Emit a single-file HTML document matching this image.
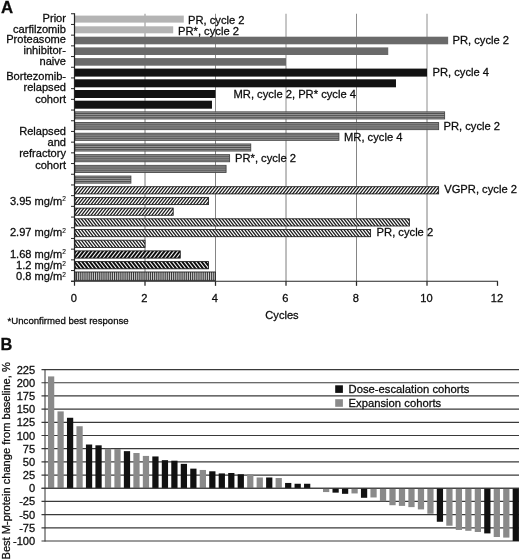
<!DOCTYPE html>
<html><head><meta charset="utf-8"><title>Figure</title>
<style>html,body{margin:0;padding:0;background:#fff;}body{width:520px;height:560px;overflow:hidden;}svg{display:block;will-change:transform;filter:blur(0.35px);}text{font-family:"Liberation Sans",sans-serif;fill:#0c0c0c;stroke:#0c0c0c;stroke-width:0.28px;}</style></head><body>
<svg width="520" height="560" viewBox="0 0 520 560">
<defs>
<pattern id="vs" patternUnits="userSpaceOnUse" width="1.9" height="4"><rect width="1.9" height="4" fill="#d8d8d8"/><rect width="1.0" height="4" fill="#333"/></pattern>
</defs>
<text x="1" y="13.4" font-size="16.8" font-weight="bold" fill="#000">A</text>
<line x1="145.00" y1="13.75" x2="145.00" y2="281.25" stroke="#8e8e8e" stroke-width="1"/>
<line x1="215.50" y1="13.75" x2="215.50" y2="281.25" stroke="#8e8e8e" stroke-width="1"/>
<line x1="286.00" y1="13.75" x2="286.00" y2="281.25" stroke="#8e8e8e" stroke-width="1"/>
<line x1="356.50" y1="13.75" x2="356.50" y2="281.25" stroke="#8e8e8e" stroke-width="1"/>
<line x1="427.00" y1="13.75" x2="427.00" y2="281.25" stroke="#8e8e8e" stroke-width="1"/>
<rect x="75.00" y="15.60" width="108.78" height="7.0" fill="#b4b4b4"/>
<rect x="75.00" y="26.30" width="98.20" height="7.0" fill="#b4b4b4"/>
<rect x="75.00" y="36.70" width="373.15" height="7.6" fill="#6a6a6a"/>
<rect x="75.00" y="47.40" width="313.23" height="7.6" fill="#6a6a6a"/>
<rect x="75.00" y="58.10" width="211.00" height="7.6" fill="#6a6a6a"/>
<rect x="75.00" y="68.60" width="352.00" height="8.0" fill="#121212"/>
<rect x="75.00" y="79.30" width="320.98" height="8.0" fill="#121212"/>
<rect x="75.00" y="90.00" width="140.50" height="8.0" fill="#121212"/>
<rect x="75.00" y="100.70" width="136.97" height="8.0" fill="#121212"/>
<rect x="75.00" y="111.85" width="369.62" height="7.1" fill="#9c9c9c" stroke="#484848" stroke-width="0.9"/>
<path d="M75.00 113.50H444.62M75.00 115.40H444.62M75.00 117.30H444.62" stroke="#484848" stroke-width="0.9" fill="none"/>
<rect x="75.00" y="122.55" width="363.63" height="7.1" fill="#9c9c9c" stroke="#484848" stroke-width="0.9"/>
<path d="M75.00 124.20H438.63M75.00 126.10H438.63M75.00 128.00H438.63" stroke="#484848" stroke-width="0.9" fill="none"/>
<rect x="75.00" y="133.25" width="263.88" height="7.1" fill="#9c9c9c" stroke="#484848" stroke-width="0.9"/>
<path d="M75.00 134.90H338.88M75.00 136.80H338.88M75.00 138.70H338.88" stroke="#484848" stroke-width="0.9" fill="none"/>
<rect x="75.00" y="143.95" width="175.75" height="7.1" fill="#9c9c9c" stroke="#484848" stroke-width="0.9"/>
<path d="M75.00 145.60H250.75M75.00 147.50H250.75M75.00 149.40H250.75" stroke="#484848" stroke-width="0.9" fill="none"/>
<rect x="75.00" y="154.65" width="154.60" height="7.1" fill="#9c9c9c" stroke="#484848" stroke-width="0.9"/>
<path d="M75.00 156.30H229.60M75.00 158.20H229.60M75.00 160.10H229.60" stroke="#484848" stroke-width="0.9" fill="none"/>
<rect x="75.00" y="165.35" width="151.07" height="7.1" fill="#9c9c9c" stroke="#484848" stroke-width="0.9"/>
<path d="M75.00 167.00H226.07M75.00 168.90H226.07M75.00 170.80H226.07" stroke="#484848" stroke-width="0.9" fill="none"/>
<rect x="75.00" y="176.05" width="55.90" height="7.1" fill="#9c9c9c" stroke="#484848" stroke-width="0.9"/>
<path d="M75.00 177.70H130.90M75.00 179.60H130.90M75.00 181.50H130.90" stroke="#484848" stroke-width="0.9" fill="none"/>
<clipPath id="c16"><rect x="75.00" y="186.70" width="363.63" height="7.2"/></clipPath>
<rect x="75.00" y="186.70" width="363.63" height="7.2" fill="#fff"/>
<path clip-path="url(#c16)" d="M64.61 194.90l7.19 -9.20M67.81 194.90l7.19 -9.20M71.01 194.90l7.19 -9.20M74.21 194.90l7.19 -9.20M77.41 194.90l7.19 -9.20M80.61 194.90l7.19 -9.20M83.81 194.90l7.19 -9.20M87.01 194.90l7.19 -9.20M90.21 194.90l7.19 -9.20M93.41 194.90l7.19 -9.20M96.61 194.90l7.19 -9.20M99.81 194.90l7.19 -9.20M103.01 194.90l7.19 -9.20M106.21 194.90l7.19 -9.20M109.41 194.90l7.19 -9.20M112.61 194.90l7.19 -9.20M115.81 194.90l7.19 -9.20M119.01 194.90l7.19 -9.20M122.21 194.90l7.19 -9.20M125.41 194.90l7.19 -9.20M128.61 194.90l7.19 -9.20M131.81 194.90l7.19 -9.20M135.01 194.90l7.19 -9.20M138.21 194.90l7.19 -9.20M141.41 194.90l7.19 -9.20M144.61 194.90l7.19 -9.20M147.81 194.90l7.19 -9.20M151.01 194.90l7.19 -9.20M154.21 194.90l7.19 -9.20M157.41 194.90l7.19 -9.20M160.61 194.90l7.19 -9.20M163.81 194.90l7.19 -9.20M167.01 194.90l7.19 -9.20M170.21 194.90l7.19 -9.20M173.41 194.90l7.19 -9.20M176.61 194.90l7.19 -9.20M179.81 194.90l7.19 -9.20M183.01 194.90l7.19 -9.20M186.21 194.90l7.19 -9.20M189.41 194.90l7.19 -9.20M192.61 194.90l7.19 -9.20M195.81 194.90l7.19 -9.20M199.01 194.90l7.19 -9.20M202.21 194.90l7.19 -9.20M205.41 194.90l7.19 -9.20M208.61 194.90l7.19 -9.20M211.81 194.90l7.19 -9.20M215.01 194.90l7.19 -9.20M218.21 194.90l7.19 -9.20M221.41 194.90l7.19 -9.20M224.61 194.90l7.19 -9.20M227.81 194.90l7.19 -9.20M231.01 194.90l7.19 -9.20M234.21 194.90l7.19 -9.20M237.41 194.90l7.19 -9.20M240.61 194.90l7.19 -9.20M243.81 194.90l7.19 -9.20M247.01 194.90l7.19 -9.20M250.21 194.90l7.19 -9.20M253.41 194.90l7.19 -9.20M256.61 194.90l7.19 -9.20M259.81 194.90l7.19 -9.20M263.01 194.90l7.19 -9.20M266.21 194.90l7.19 -9.20M269.41 194.90l7.19 -9.20M272.61 194.90l7.19 -9.20M275.81 194.90l7.19 -9.20M279.01 194.90l7.19 -9.20M282.21 194.90l7.19 -9.20M285.41 194.90l7.19 -9.20M288.61 194.90l7.19 -9.20M291.81 194.90l7.19 -9.20M295.01 194.90l7.19 -9.20M298.21 194.90l7.19 -9.20M301.41 194.90l7.19 -9.20M304.61 194.90l7.19 -9.20M307.81 194.90l7.19 -9.20M311.01 194.90l7.19 -9.20M314.21 194.90l7.19 -9.20M317.41 194.90l7.19 -9.20M320.61 194.90l7.19 -9.20M323.81 194.90l7.19 -9.20M327.01 194.90l7.19 -9.20M330.21 194.90l7.19 -9.20M333.41 194.90l7.19 -9.20M336.61 194.90l7.19 -9.20M339.81 194.90l7.19 -9.20M343.01 194.90l7.19 -9.20M346.21 194.90l7.19 -9.20M349.41 194.90l7.19 -9.20M352.61 194.90l7.19 -9.20M355.81 194.90l7.19 -9.20M359.01 194.90l7.19 -9.20M362.21 194.90l7.19 -9.20M365.41 194.90l7.19 -9.20M368.61 194.90l7.19 -9.20M371.81 194.90l7.19 -9.20M375.01 194.90l7.19 -9.20M378.21 194.90l7.19 -9.20M381.41 194.90l7.19 -9.20M384.61 194.90l7.19 -9.20M387.81 194.90l7.19 -9.20M391.01 194.90l7.19 -9.20M394.21 194.90l7.19 -9.20M397.41 194.90l7.19 -9.20M400.61 194.90l7.19 -9.20M403.81 194.90l7.19 -9.20M407.01 194.90l7.19 -9.20M410.21 194.90l7.19 -9.20M413.41 194.90l7.19 -9.20M416.61 194.90l7.19 -9.20M419.81 194.90l7.19 -9.20M423.01 194.90l7.19 -9.20M426.21 194.90l7.19 -9.20M429.41 194.90l7.19 -9.20M432.61 194.90l7.19 -9.20M435.81 194.90l7.19 -9.20M439.01 194.90l7.19 -9.20" stroke="#1e1e1e" stroke-width="1.3" fill="none"/>
<rect x="75.00" y="186.70" width="363.63" height="7.2" fill="none" stroke="#1c1c1c" stroke-width="0.85"/>
<clipPath id="c17"><rect x="75.00" y="197.40" width="133.45" height="7.2"/></clipPath>
<rect x="75.00" y="197.40" width="133.45" height="7.2" fill="#fff"/>
<path clip-path="url(#c17)" d="M64.61 205.60l7.19 -9.20M67.81 205.60l7.19 -9.20M71.01 205.60l7.19 -9.20M74.21 205.60l7.19 -9.20M77.41 205.60l7.19 -9.20M80.61 205.60l7.19 -9.20M83.81 205.60l7.19 -9.20M87.01 205.60l7.19 -9.20M90.21 205.60l7.19 -9.20M93.41 205.60l7.19 -9.20M96.61 205.60l7.19 -9.20M99.81 205.60l7.19 -9.20M103.01 205.60l7.19 -9.20M106.21 205.60l7.19 -9.20M109.41 205.60l7.19 -9.20M112.61 205.60l7.19 -9.20M115.81 205.60l7.19 -9.20M119.01 205.60l7.19 -9.20M122.21 205.60l7.19 -9.20M125.41 205.60l7.19 -9.20M128.61 205.60l7.19 -9.20M131.81 205.60l7.19 -9.20M135.01 205.60l7.19 -9.20M138.21 205.60l7.19 -9.20M141.41 205.60l7.19 -9.20M144.61 205.60l7.19 -9.20M147.81 205.60l7.19 -9.20M151.01 205.60l7.19 -9.20M154.21 205.60l7.19 -9.20M157.41 205.60l7.19 -9.20M160.61 205.60l7.19 -9.20M163.81 205.60l7.19 -9.20M167.01 205.60l7.19 -9.20M170.21 205.60l7.19 -9.20M173.41 205.60l7.19 -9.20M176.61 205.60l7.19 -9.20M179.81 205.60l7.19 -9.20M183.01 205.60l7.19 -9.20M186.21 205.60l7.19 -9.20M189.41 205.60l7.19 -9.20M192.61 205.60l7.19 -9.20M195.81 205.60l7.19 -9.20M199.01 205.60l7.19 -9.20M202.21 205.60l7.19 -9.20M205.41 205.60l7.19 -9.20M208.61 205.60l7.19 -9.20" stroke="#1e1e1e" stroke-width="1.3" fill="none"/>
<rect x="75.00" y="197.40" width="133.45" height="7.2" fill="none" stroke="#1c1c1c" stroke-width="0.85"/>
<clipPath id="c18"><rect x="75.00" y="208.10" width="98.20" height="7.2"/></clipPath>
<rect x="75.00" y="208.10" width="98.20" height="7.2" fill="#fff"/>
<path clip-path="url(#c18)" d="M64.61 216.30l7.19 -9.20M67.81 216.30l7.19 -9.20M71.01 216.30l7.19 -9.20M74.21 216.30l7.19 -9.20M77.41 216.30l7.19 -9.20M80.61 216.30l7.19 -9.20M83.81 216.30l7.19 -9.20M87.01 216.30l7.19 -9.20M90.21 216.30l7.19 -9.20M93.41 216.30l7.19 -9.20M96.61 216.30l7.19 -9.20M99.81 216.30l7.19 -9.20M103.01 216.30l7.19 -9.20M106.21 216.30l7.19 -9.20M109.41 216.30l7.19 -9.20M112.61 216.30l7.19 -9.20M115.81 216.30l7.19 -9.20M119.01 216.30l7.19 -9.20M122.21 216.30l7.19 -9.20M125.41 216.30l7.19 -9.20M128.61 216.30l7.19 -9.20M131.81 216.30l7.19 -9.20M135.01 216.30l7.19 -9.20M138.21 216.30l7.19 -9.20M141.41 216.30l7.19 -9.20M144.61 216.30l7.19 -9.20M147.81 216.30l7.19 -9.20M151.01 216.30l7.19 -9.20M154.21 216.30l7.19 -9.20M157.41 216.30l7.19 -9.20M160.61 216.30l7.19 -9.20M163.81 216.30l7.19 -9.20M167.01 216.30l7.19 -9.20M170.21 216.30l7.19 -9.20M173.41 216.30l7.19 -9.20" stroke="#1e1e1e" stroke-width="1.3" fill="none"/>
<rect x="75.00" y="208.10" width="98.20" height="7.2" fill="none" stroke="#1c1c1c" stroke-width="0.85"/>
<clipPath id="c19"><rect x="75.00" y="218.80" width="334.38" height="7.2"/></clipPath>
<rect x="75.00" y="218.80" width="334.38" height="7.2" fill="#fff"/>
<path clip-path="url(#c19)" d="M64.61 217.80l7.19 9.20M67.81 217.80l7.19 9.20M71.01 217.80l7.19 9.20M74.21 217.80l7.19 9.20M77.41 217.80l7.19 9.20M80.61 217.80l7.19 9.20M83.81 217.80l7.19 9.20M87.01 217.80l7.19 9.20M90.21 217.80l7.19 9.20M93.41 217.80l7.19 9.20M96.61 217.80l7.19 9.20M99.81 217.80l7.19 9.20M103.01 217.80l7.19 9.20M106.21 217.80l7.19 9.20M109.41 217.80l7.19 9.20M112.61 217.80l7.19 9.20M115.81 217.80l7.19 9.20M119.01 217.80l7.19 9.20M122.21 217.80l7.19 9.20M125.41 217.80l7.19 9.20M128.61 217.80l7.19 9.20M131.81 217.80l7.19 9.20M135.01 217.80l7.19 9.20M138.21 217.80l7.19 9.20M141.41 217.80l7.19 9.20M144.61 217.80l7.19 9.20M147.81 217.80l7.19 9.20M151.01 217.80l7.19 9.20M154.21 217.80l7.19 9.20M157.41 217.80l7.19 9.20M160.61 217.80l7.19 9.20M163.81 217.80l7.19 9.20M167.01 217.80l7.19 9.20M170.21 217.80l7.19 9.20M173.41 217.80l7.19 9.20M176.61 217.80l7.19 9.20M179.81 217.80l7.19 9.20M183.01 217.80l7.19 9.20M186.21 217.80l7.19 9.20M189.41 217.80l7.19 9.20M192.61 217.80l7.19 9.20M195.81 217.80l7.19 9.20M199.01 217.80l7.19 9.20M202.21 217.80l7.19 9.20M205.41 217.80l7.19 9.20M208.61 217.80l7.19 9.20M211.81 217.80l7.19 9.20M215.01 217.80l7.19 9.20M218.21 217.80l7.19 9.20M221.41 217.80l7.19 9.20M224.61 217.80l7.19 9.20M227.81 217.80l7.19 9.20M231.01 217.80l7.19 9.20M234.21 217.80l7.19 9.20M237.41 217.80l7.19 9.20M240.61 217.80l7.19 9.20M243.81 217.80l7.19 9.20M247.01 217.80l7.19 9.20M250.21 217.80l7.19 9.20M253.41 217.80l7.19 9.20M256.61 217.80l7.19 9.20M259.81 217.80l7.19 9.20M263.01 217.80l7.19 9.20M266.21 217.80l7.19 9.20M269.41 217.80l7.19 9.20M272.61 217.80l7.19 9.20M275.81 217.80l7.19 9.20M279.01 217.80l7.19 9.20M282.21 217.80l7.19 9.20M285.41 217.80l7.19 9.20M288.61 217.80l7.19 9.20M291.81 217.80l7.19 9.20M295.01 217.80l7.19 9.20M298.21 217.80l7.19 9.20M301.41 217.80l7.19 9.20M304.61 217.80l7.19 9.20M307.81 217.80l7.19 9.20M311.01 217.80l7.19 9.20M314.21 217.80l7.19 9.20M317.41 217.80l7.19 9.20M320.61 217.80l7.19 9.20M323.81 217.80l7.19 9.20M327.01 217.80l7.19 9.20M330.21 217.80l7.19 9.20M333.41 217.80l7.19 9.20M336.61 217.80l7.19 9.20M339.81 217.80l7.19 9.20M343.01 217.80l7.19 9.20M346.21 217.80l7.19 9.20M349.41 217.80l7.19 9.20M352.61 217.80l7.19 9.20M355.81 217.80l7.19 9.20M359.01 217.80l7.19 9.20M362.21 217.80l7.19 9.20M365.41 217.80l7.19 9.20M368.61 217.80l7.19 9.20M371.81 217.80l7.19 9.20M375.01 217.80l7.19 9.20M378.21 217.80l7.19 9.20M381.41 217.80l7.19 9.20M384.61 217.80l7.19 9.20M387.81 217.80l7.19 9.20M391.01 217.80l7.19 9.20M394.21 217.80l7.19 9.20M397.41 217.80l7.19 9.20M400.61 217.80l7.19 9.20M403.81 217.80l7.19 9.20M407.01 217.80l7.19 9.20M410.21 217.80l7.19 9.20" stroke="#1e1e1e" stroke-width="1.3" fill="none"/>
<rect x="75.00" y="218.80" width="334.38" height="7.2" fill="none" stroke="#1c1c1c" stroke-width="0.85"/>
<clipPath id="c20"><rect x="75.00" y="229.50" width="295.60" height="7.2"/></clipPath>
<rect x="75.00" y="229.50" width="295.60" height="7.2" fill="#fff"/>
<path clip-path="url(#c20)" d="M64.61 228.50l7.19 9.20M67.81 228.50l7.19 9.20M71.01 228.50l7.19 9.20M74.21 228.50l7.19 9.20M77.41 228.50l7.19 9.20M80.61 228.50l7.19 9.20M83.81 228.50l7.19 9.20M87.01 228.50l7.19 9.20M90.21 228.50l7.19 9.20M93.41 228.50l7.19 9.20M96.61 228.50l7.19 9.20M99.81 228.50l7.19 9.20M103.01 228.50l7.19 9.20M106.21 228.50l7.19 9.20M109.41 228.50l7.19 9.20M112.61 228.50l7.19 9.20M115.81 228.50l7.19 9.20M119.01 228.50l7.19 9.20M122.21 228.50l7.19 9.20M125.41 228.50l7.19 9.20M128.61 228.50l7.19 9.20M131.81 228.50l7.19 9.20M135.01 228.50l7.19 9.20M138.21 228.50l7.19 9.20M141.41 228.50l7.19 9.20M144.61 228.50l7.19 9.20M147.81 228.50l7.19 9.20M151.01 228.50l7.19 9.20M154.21 228.50l7.19 9.20M157.41 228.50l7.19 9.20M160.61 228.50l7.19 9.20M163.81 228.50l7.19 9.20M167.01 228.50l7.19 9.20M170.21 228.50l7.19 9.20M173.41 228.50l7.19 9.20M176.61 228.50l7.19 9.20M179.81 228.50l7.19 9.20M183.01 228.50l7.19 9.20M186.21 228.50l7.19 9.20M189.41 228.50l7.19 9.20M192.61 228.50l7.19 9.20M195.81 228.50l7.19 9.20M199.01 228.50l7.19 9.20M202.21 228.50l7.19 9.20M205.41 228.50l7.19 9.20M208.61 228.50l7.19 9.20M211.81 228.50l7.19 9.20M215.01 228.50l7.19 9.20M218.21 228.50l7.19 9.20M221.41 228.50l7.19 9.20M224.61 228.50l7.19 9.20M227.81 228.50l7.19 9.20M231.01 228.50l7.19 9.20M234.21 228.50l7.19 9.20M237.41 228.50l7.19 9.20M240.61 228.50l7.19 9.20M243.81 228.50l7.19 9.20M247.01 228.50l7.19 9.20M250.21 228.50l7.19 9.20M253.41 228.50l7.19 9.20M256.61 228.50l7.19 9.20M259.81 228.50l7.19 9.20M263.01 228.50l7.19 9.20M266.21 228.50l7.19 9.20M269.41 228.50l7.19 9.20M272.61 228.50l7.19 9.20M275.81 228.50l7.19 9.20M279.01 228.50l7.19 9.20M282.21 228.50l7.19 9.20M285.41 228.50l7.19 9.20M288.61 228.50l7.19 9.20M291.81 228.50l7.19 9.20M295.01 228.50l7.19 9.20M298.21 228.50l7.19 9.20M301.41 228.50l7.19 9.20M304.61 228.50l7.19 9.20M307.81 228.50l7.19 9.20M311.01 228.50l7.19 9.20M314.21 228.50l7.19 9.20M317.41 228.50l7.19 9.20M320.61 228.50l7.19 9.20M323.81 228.50l7.19 9.20M327.01 228.50l7.19 9.20M330.21 228.50l7.19 9.20M333.41 228.50l7.19 9.20M336.61 228.50l7.19 9.20M339.81 228.50l7.19 9.20M343.01 228.50l7.19 9.20M346.21 228.50l7.19 9.20M349.41 228.50l7.19 9.20M352.61 228.50l7.19 9.20M355.81 228.50l7.19 9.20M359.01 228.50l7.19 9.20M362.21 228.50l7.19 9.20M365.41 228.50l7.19 9.20M368.61 228.50l7.19 9.20M371.81 228.50l7.19 9.20" stroke="#1e1e1e" stroke-width="1.3" fill="none"/>
<rect x="75.00" y="229.50" width="295.60" height="7.2" fill="none" stroke="#1c1c1c" stroke-width="0.85"/>
<clipPath id="c21"><rect x="75.00" y="240.20" width="70.00" height="7.2"/></clipPath>
<rect x="75.00" y="240.20" width="70.00" height="7.2" fill="#fff"/>
<path clip-path="url(#c21)" d="M64.61 239.20l7.19 9.20M67.81 239.20l7.19 9.20M71.01 239.20l7.19 9.20M74.21 239.20l7.19 9.20M77.41 239.20l7.19 9.20M80.61 239.20l7.19 9.20M83.81 239.20l7.19 9.20M87.01 239.20l7.19 9.20M90.21 239.20l7.19 9.20M93.41 239.20l7.19 9.20M96.61 239.20l7.19 9.20M99.81 239.20l7.19 9.20M103.01 239.20l7.19 9.20M106.21 239.20l7.19 9.20M109.41 239.20l7.19 9.20M112.61 239.20l7.19 9.20M115.81 239.20l7.19 9.20M119.01 239.20l7.19 9.20M122.21 239.20l7.19 9.20M125.41 239.20l7.19 9.20M128.61 239.20l7.19 9.20M131.81 239.20l7.19 9.20M135.01 239.20l7.19 9.20M138.21 239.20l7.19 9.20M141.41 239.20l7.19 9.20M144.61 239.20l7.19 9.20M147.81 239.20l7.19 9.20" stroke="#1e1e1e" stroke-width="1.3" fill="none"/>
<rect x="75.00" y="240.20" width="70.00" height="7.2" fill="none" stroke="#1c1c1c" stroke-width="0.85"/>
<clipPath id="c22"><rect x="75.00" y="250.90" width="105.25" height="7.2"/></clipPath>
<rect x="75.00" y="250.90" width="105.25" height="7.2" fill="#0c0c0c"/>
<path clip-path="url(#c22)" d="M63.96 259.10l7.19 -9.20M67.81 259.10l7.19 -9.20M71.66 259.10l7.19 -9.20M75.51 259.10l7.19 -9.20M79.36 259.10l7.19 -9.20M83.21 259.10l7.19 -9.20M87.06 259.10l7.19 -9.20M90.91 259.10l7.19 -9.20M94.76 259.10l7.19 -9.20M98.61 259.10l7.19 -9.20M102.46 259.10l7.19 -9.20M106.31 259.10l7.19 -9.20M110.16 259.10l7.19 -9.20M114.01 259.10l7.19 -9.20M117.86 259.10l7.19 -9.20M121.71 259.10l7.19 -9.20M125.56 259.10l7.19 -9.20M129.41 259.10l7.19 -9.20M133.26 259.10l7.19 -9.20M137.11 259.10l7.19 -9.20M140.96 259.10l7.19 -9.20M144.81 259.10l7.19 -9.20M148.66 259.10l7.19 -9.20M152.51 259.10l7.19 -9.20M156.36 259.10l7.19 -9.20M160.21 259.10l7.19 -9.20M164.06 259.10l7.19 -9.20M167.91 259.10l7.19 -9.20M171.76 259.10l7.19 -9.20M175.61 259.10l7.19 -9.20M179.46 259.10l7.19 -9.20M183.31 259.10l7.19 -9.20" stroke="#f2f2f2" stroke-width="1.12" fill="none"/>
<rect x="75.00" y="250.90" width="105.25" height="7.2" fill="none" stroke="#1c1c1c" stroke-width="0.85"/>
<clipPath id="c23"><rect x="75.00" y="261.60" width="133.45" height="7.2"/></clipPath>
<rect x="75.00" y="261.60" width="133.45" height="7.2" fill="#0c0c0c"/>
<path clip-path="url(#c23)" d="M63.96 260.60l7.19 9.20M67.81 260.60l7.19 9.20M71.66 260.60l7.19 9.20M75.51 260.60l7.19 9.20M79.36 260.60l7.19 9.20M83.21 260.60l7.19 9.20M87.06 260.60l7.19 9.20M90.91 260.60l7.19 9.20M94.76 260.60l7.19 9.20M98.61 260.60l7.19 9.20M102.46 260.60l7.19 9.20M106.31 260.60l7.19 9.20M110.16 260.60l7.19 9.20M114.01 260.60l7.19 9.20M117.86 260.60l7.19 9.20M121.71 260.60l7.19 9.20M125.56 260.60l7.19 9.20M129.41 260.60l7.19 9.20M133.26 260.60l7.19 9.20M137.11 260.60l7.19 9.20M140.96 260.60l7.19 9.20M144.81 260.60l7.19 9.20M148.66 260.60l7.19 9.20M152.51 260.60l7.19 9.20M156.36 260.60l7.19 9.20M160.21 260.60l7.19 9.20M164.06 260.60l7.19 9.20M167.91 260.60l7.19 9.20M171.76 260.60l7.19 9.20M175.61 260.60l7.19 9.20M179.46 260.60l7.19 9.20M183.31 260.60l7.19 9.20M187.16 260.60l7.19 9.20M191.01 260.60l7.19 9.20M194.86 260.60l7.19 9.20M198.71 260.60l7.19 9.20M202.56 260.60l7.19 9.20M206.41 260.60l7.19 9.20M210.26 260.60l7.19 9.20" stroke="#f2f2f2" stroke-width="1.12" fill="none"/>
<rect x="75.00" y="261.60" width="133.45" height="7.2" fill="none" stroke="#1c1c1c" stroke-width="0.85"/>
<rect x="75.00" y="272.00" width="140.50" height="8.35" fill="url(#vs)" stroke="#222" stroke-width="0.9"/>
<line x1="145.00" y1="111.40" x2="145.00" y2="281.25" stroke="#555" stroke-width="1" opacity="0.15"/>
<line x1="215.50" y1="111.40" x2="215.50" y2="281.25" stroke="#555" stroke-width="1" opacity="0.15"/>
<line x1="286.00" y1="111.40" x2="286.00" y2="281.25" stroke="#555" stroke-width="1" opacity="0.15"/>
<line x1="356.50" y1="111.40" x2="356.50" y2="281.25" stroke="#555" stroke-width="1" opacity="0.15"/>
<line x1="427.00" y1="111.40" x2="427.00" y2="281.25" stroke="#555" stroke-width="1" opacity="0.15"/>
<line x1="74.5" y1="13.25" x2="74.5" y2="285.85" stroke="#262626" stroke-width="1.2"/>
<line x1="71.0" y1="281.25" x2="498.00" y2="281.25" stroke="#262626" stroke-width="1.0"/>
<line x1="71.0" y1="13.75" x2="74.5" y2="13.75" stroke="#262626" stroke-width="1.0"/>
<line x1="71.0" y1="24.45" x2="74.5" y2="24.45" stroke="#262626" stroke-width="1.0"/>
<line x1="71.0" y1="35.15" x2="74.5" y2="35.15" stroke="#262626" stroke-width="1.0"/>
<line x1="71.0" y1="45.85" x2="74.5" y2="45.85" stroke="#262626" stroke-width="1.0"/>
<line x1="71.0" y1="56.55" x2="74.5" y2="56.55" stroke="#262626" stroke-width="1.0"/>
<line x1="71.0" y1="67.25" x2="74.5" y2="67.25" stroke="#262626" stroke-width="1.0"/>
<line x1="71.0" y1="77.95" x2="74.5" y2="77.95" stroke="#262626" stroke-width="1.0"/>
<line x1="71.0" y1="88.65" x2="74.5" y2="88.65" stroke="#262626" stroke-width="1.0"/>
<line x1="71.0" y1="99.35" x2="74.5" y2="99.35" stroke="#262626" stroke-width="1.0"/>
<line x1="71.0" y1="110.05" x2="74.5" y2="110.05" stroke="#262626" stroke-width="1.0"/>
<line x1="71.0" y1="120.75" x2="74.5" y2="120.75" stroke="#262626" stroke-width="1.0"/>
<line x1="71.0" y1="131.45" x2="74.5" y2="131.45" stroke="#262626" stroke-width="1.0"/>
<line x1="71.0" y1="142.15" x2="74.5" y2="142.15" stroke="#262626" stroke-width="1.0"/>
<line x1="71.0" y1="152.85" x2="74.5" y2="152.85" stroke="#262626" stroke-width="1.0"/>
<line x1="71.0" y1="163.55" x2="74.5" y2="163.55" stroke="#262626" stroke-width="1.0"/>
<line x1="71.0" y1="174.25" x2="74.5" y2="174.25" stroke="#262626" stroke-width="1.0"/>
<line x1="71.0" y1="184.95" x2="74.5" y2="184.95" stroke="#262626" stroke-width="1.0"/>
<line x1="71.0" y1="195.65" x2="74.5" y2="195.65" stroke="#262626" stroke-width="1.0"/>
<line x1="71.0" y1="206.35" x2="74.5" y2="206.35" stroke="#262626" stroke-width="1.0"/>
<line x1="71.0" y1="217.05" x2="74.5" y2="217.05" stroke="#262626" stroke-width="1.0"/>
<line x1="71.0" y1="227.75" x2="74.5" y2="227.75" stroke="#262626" stroke-width="1.0"/>
<line x1="71.0" y1="238.45" x2="74.5" y2="238.45" stroke="#262626" stroke-width="1.0"/>
<line x1="71.0" y1="249.15" x2="74.5" y2="249.15" stroke="#262626" stroke-width="1.0"/>
<line x1="71.0" y1="259.85" x2="74.5" y2="259.85" stroke="#262626" stroke-width="1.0"/>
<line x1="71.0" y1="270.55" x2="74.5" y2="270.55" stroke="#262626" stroke-width="1.0"/>
<line x1="71.0" y1="281.25" x2="74.5" y2="281.25" stroke="#262626" stroke-width="1.0"/>
<line x1="145.00" y1="281.25" x2="145.00" y2="285.85" stroke="#262626" stroke-width="1.25"/>
<line x1="215.50" y1="281.25" x2="215.50" y2="285.85" stroke="#262626" stroke-width="1.25"/>
<line x1="286.00" y1="281.25" x2="286.00" y2="285.85" stroke="#262626" stroke-width="1.25"/>
<line x1="356.50" y1="281.25" x2="356.50" y2="285.85" stroke="#262626" stroke-width="1.25"/>
<line x1="427.00" y1="281.25" x2="427.00" y2="285.85" stroke="#262626" stroke-width="1.25"/>
<line x1="497.50" y1="281.25" x2="497.50" y2="285.85" stroke="#262626" stroke-width="1.25"/>
<text x="66.0" y="21.60" font-size="11.1" text-anchor="end">Prior</text>
<text x="66.0" y="32.60" font-size="11.1" text-anchor="end">carfilzomib</text>
<text x="66.0" y="42.60" font-size="11.1" text-anchor="end">Proteasome</text>
<text x="66.0" y="53.60" font-size="11.1" text-anchor="end">inhibitor-</text>
<text x="66.0" y="65.10" font-size="11.1" text-anchor="end">naive</text>
<text x="66.0" y="80.00" font-size="11.1" text-anchor="end">Bortezomib-</text>
<text x="66.0" y="91.30" font-size="11.1" text-anchor="end">relapsed</text>
<text x="66.0" y="102.70" font-size="11.1" text-anchor="end">cohort</text>
<text x="66.0" y="134.60" font-size="11.1" text-anchor="end">Relapsed</text>
<text x="66.0" y="146.00" font-size="11.1" text-anchor="end">and</text>
<text x="66.0" y="157.30" font-size="11.1" text-anchor="end">refractory</text>
<text x="66.0" y="168.50" font-size="11.1" text-anchor="end">cohort</text>
<text x="66.0" y="204.80" font-size="11.1" text-anchor="end">3.95 mg/m<tspan font-size="6.6" dy="-3.6" stroke-width="0.1">2</tspan></text>
<text x="66.0" y="236.40" font-size="11.1" text-anchor="end">2.97 mg/m<tspan font-size="6.6" dy="-3.6" stroke-width="0.1">2</tspan></text>
<text x="66.0" y="257.80" font-size="11.1" text-anchor="end">1.68 mg/m<tspan font-size="6.6" dy="-3.6" stroke-width="0.1">2</tspan></text>
<text x="66.0" y="269.10" font-size="11.1" text-anchor="end">1.2 mg/m<tspan font-size="6.6" dy="-3.6" stroke-width="0.1">2</tspan></text>
<text x="66.0" y="280.10" font-size="11.1" text-anchor="end">0.8 mg/m<tspan font-size="6.6" dy="-3.6" stroke-width="0.1">2</tspan></text>
<text x="188" y="23.70" font-size="11.2">PR, cycle 2</text>
<text x="178" y="34.80" font-size="11.2">PR*, cycle 2</text>
<text x="452.5" y="44.30" font-size="11.2">PR, cycle 2</text>
<text x="432.5" y="76.20" font-size="11.2">PR, cycle 4</text>
<text x="233.5" y="97.50" font-size="11.2">MR, cycle 2, PR* cycle 4</text>
<text x="443.5" y="129.90" font-size="11.2">PR, cycle 2</text>
<text x="344" y="140.80" font-size="11.2">MR, cycle 4</text>
<text x="235" y="162.20" font-size="11.2">PR*, cycle 2</text>
<text x="444.2" y="193.20" font-size="11.2">VGPR, cycle 2</text>
<text x="376.6" y="236.30" font-size="11.2">PR, cycle 2</text>
<text x="73.90" y="302.1" font-size="11.1" text-anchor="middle">0</text>
<text x="144.40" y="302.1" font-size="11.1" text-anchor="middle">2</text>
<text x="214.90" y="302.1" font-size="11.1" text-anchor="middle">4</text>
<text x="285.40" y="302.1" font-size="11.1" text-anchor="middle">6</text>
<text x="355.90" y="302.1" font-size="11.1" text-anchor="middle">8</text>
<text x="426.40" y="302.1" font-size="11.1" text-anchor="middle">10</text>
<text x="496.90" y="302.1" font-size="11.1" text-anchor="middle">12</text>
<text x="282" y="319.3" font-size="11.1" text-anchor="middle">Cycles</text>
<text x="7.6" y="324.4" font-size="9.6">*Unconfirmed best response</text>
<text x="0.6" y="350" font-size="16.4" font-weight="bold" fill="#000">B</text>
<text x="35.2" y="545.00" font-size="11.1" text-anchor="end">-100</text>
<line x1="41.5" y1="541.00" x2="519" y2="541.00" stroke="#3a3a3a" stroke-width="1.15"/>
<text x="35.2" y="531.81" font-size="11.1" text-anchor="end">-75</text>
<line x1="41.5" y1="527.81" x2="519" y2="527.81" stroke="#3a3a3a" stroke-width="1.15"/>
<text x="35.2" y="518.62" font-size="11.1" text-anchor="end">-50</text>
<line x1="41.5" y1="514.62" x2="519" y2="514.62" stroke="#3a3a3a" stroke-width="1.15"/>
<text x="35.2" y="505.44" font-size="11.1" text-anchor="end">-25</text>
<line x1="41.5" y1="501.44" x2="519" y2="501.44" stroke="#3a3a3a" stroke-width="1.15"/>
<text x="35.2" y="492.25" font-size="11.1" text-anchor="end">0</text>
<line x1="41.5" y1="488.25" x2="519" y2="488.25" stroke="#3a3a3a" stroke-width="1.15"/>
<text x="35.2" y="479.06" font-size="11.1" text-anchor="end">25</text>
<line x1="41.5" y1="475.06" x2="519" y2="475.06" stroke="#3a3a3a" stroke-width="1.15"/>
<text x="35.2" y="465.88" font-size="11.1" text-anchor="end">50</text>
<line x1="41.5" y1="461.88" x2="519" y2="461.88" stroke="#3a3a3a" stroke-width="1.15"/>
<text x="35.2" y="452.69" font-size="11.1" text-anchor="end">75</text>
<line x1="41.5" y1="448.69" x2="519" y2="448.69" stroke="#3a3a3a" stroke-width="1.15"/>
<text x="35.2" y="439.50" font-size="11.1" text-anchor="end">100</text>
<line x1="41.5" y1="435.50" x2="519" y2="435.50" stroke="#3a3a3a" stroke-width="1.15"/>
<text x="35.2" y="426.31" font-size="11.1" text-anchor="end">125</text>
<line x1="41.5" y1="422.31" x2="519" y2="422.31" stroke="#3a3a3a" stroke-width="1.15"/>
<text x="35.2" y="413.12" font-size="11.1" text-anchor="end">150</text>
<line x1="41.5" y1="409.12" x2="519" y2="409.12" stroke="#3a3a3a" stroke-width="1.15"/>
<text x="35.2" y="399.94" font-size="11.1" text-anchor="end">175</text>
<line x1="41.5" y1="395.94" x2="519" y2="395.94" stroke="#3a3a3a" stroke-width="1.15"/>
<text x="35.2" y="386.75" font-size="11.1" text-anchor="end">200</text>
<line x1="41.5" y1="382.75" x2="519" y2="382.75" stroke="#3a3a3a" stroke-width="1.15"/>
<text x="35.2" y="373.56" font-size="11.1" text-anchor="end">225</text>
<line x1="41.5" y1="369.56" x2="519" y2="369.56" stroke="#3a3a3a" stroke-width="1.15"/>
<line x1="45.0" y1="369.06" x2="45.0" y2="541.50" stroke="#333" stroke-width="1"/>
<rect x="48.00" y="376.42" width="6.25" height="111.83" fill="#8a8a8a"/>
<rect x="57.48" y="411.40" width="6.25" height="76.85" fill="#8a8a8a"/>
<rect x="66.97" y="417.76" width="6.25" height="70.49" fill="#111"/>
<rect x="76.45" y="426.24" width="6.25" height="62.01" fill="#8a8a8a"/>
<rect x="85.93" y="444.52" width="6.25" height="43.73" fill="#111"/>
<rect x="95.42" y="445.32" width="6.25" height="42.93" fill="#111"/>
<rect x="104.90" y="448.76" width="6.25" height="39.49" fill="#8a8a8a"/>
<rect x="114.38" y="449.03" width="6.25" height="39.22" fill="#8a8a8a"/>
<rect x="123.86" y="451.15" width="6.25" height="37.10" fill="#111"/>
<rect x="133.35" y="453.00" width="6.25" height="35.25" fill="#8a8a8a"/>
<rect x="142.83" y="455.92" width="6.25" height="32.33" fill="#8a8a8a"/>
<rect x="152.31" y="456.45" width="6.25" height="31.80" fill="#111"/>
<rect x="161.80" y="460.16" width="6.25" height="28.09" fill="#111"/>
<rect x="171.28" y="460.69" width="6.25" height="27.56" fill="#111"/>
<rect x="180.76" y="463.87" width="6.25" height="24.38" fill="#111"/>
<rect x="190.25" y="468.64" width="6.25" height="19.61" fill="#111"/>
<rect x="199.73" y="469.96" width="6.25" height="18.29" fill="#8a8a8a"/>
<rect x="209.21" y="471.29" width="6.25" height="16.96" fill="#111"/>
<rect x="218.69" y="473.41" width="6.25" height="14.84" fill="#111"/>
<rect x="228.18" y="472.99" width="6.25" height="15.26" fill="#111"/>
<rect x="237.66" y="474.26" width="6.25" height="13.99" fill="#111"/>
<rect x="247.14" y="474.26" width="6.25" height="13.99" fill="#8a8a8a"/>
<rect x="256.63" y="477.49" width="6.25" height="10.76" fill="#8a8a8a"/>
<rect x="266.11" y="477.49" width="6.25" height="10.76" fill="#111"/>
<rect x="275.59" y="478.02" width="6.25" height="10.23" fill="#8a8a8a"/>
<rect x="285.08" y="482.95" width="6.25" height="5.30" fill="#111"/>
<rect x="294.56" y="483.75" width="6.25" height="4.50" fill="#111"/>
<rect x="304.04" y="483.75" width="6.25" height="4.50" fill="#111"/>
<rect x="323.01" y="488.25" width="6.25" height="3.82" fill="#8a8a8a"/>
<rect x="332.49" y="488.25" width="6.25" height="4.40" fill="#111"/>
<rect x="341.97" y="488.25" width="6.25" height="5.56" fill="#111"/>
<rect x="351.46" y="488.25" width="6.25" height="5.19" fill="#8a8a8a"/>
<rect x="360.94" y="488.25" width="6.25" height="9.54" fill="#111"/>
<rect x="370.42" y="488.25" width="6.25" height="9.22" fill="#8a8a8a"/>
<rect x="379.91" y="488.25" width="6.25" height="12.99" fill="#8a8a8a"/>
<rect x="389.39" y="488.25" width="6.25" height="16.96" fill="#8a8a8a"/>
<rect x="398.87" y="488.25" width="6.25" height="17.65" fill="#8a8a8a"/>
<rect x="408.35" y="488.25" width="6.25" height="18.87" fill="#8a8a8a"/>
<rect x="417.84" y="488.25" width="6.25" height="21.15" fill="#8a8a8a"/>
<rect x="427.32" y="488.25" width="6.25" height="25.49" fill="#8a8a8a"/>
<rect x="436.80" y="488.25" width="6.25" height="33.50" fill="#111"/>
<rect x="446.29" y="488.25" width="6.25" height="37.47" fill="#8a8a8a"/>
<rect x="455.77" y="488.25" width="6.25" height="41.71" fill="#8a8a8a"/>
<rect x="465.25" y="488.25" width="6.25" height="42.56" fill="#8a8a8a"/>
<rect x="474.74" y="488.25" width="6.25" height="43.73" fill="#8a8a8a"/>
<rect x="484.22" y="488.25" width="6.25" height="45.16" fill="#111"/>
<rect x="493.70" y="488.25" width="6.25" height="48.76" fill="#8a8a8a"/>
<rect x="503.18" y="488.25" width="6.25" height="49.34" fill="#8a8a8a"/>
<rect x="512.67" y="488.25" width="6.25" height="52.79" fill="#111"/>
<line x1="41.5" y1="488.25" x2="519" y2="488.25" stroke="#3a3a3a" stroke-width="1.15"/>
<rect x="335.2" y="385.3" width="7.7" height="7.6" fill="#111"/>
<text x="348.6" y="393.0" font-size="11.25">Dose-escalation cohorts</text>
<rect x="335.2" y="399.2" width="7.7" height="7.6" fill="#8a8a8a"/>
<text x="348.6" y="406.9" font-size="11.25">Expansion cohorts</text>
<text transform="translate(9.6,559.5) rotate(-90)" font-size="11.1">Best M-protein change from baseline, %</text>
</svg></body></html>
